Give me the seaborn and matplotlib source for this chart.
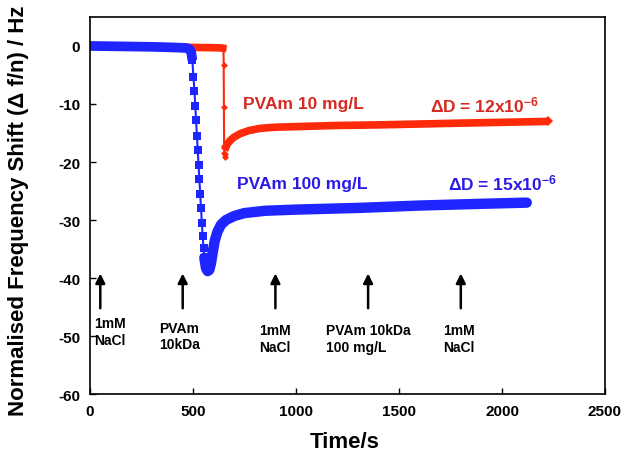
import numpy as np
import pandas as pd
import matplotlib
matplotlib.use("Agg")
import matplotlib.pyplot as plt
import seaborn as sns

# ---------------- data ----------------
# Blue: PVAm 100 mg/L
blue_base_t = [0, 100, 200, 300, 400, 470, 485, 492, 497]
blue_base_f = [0.0, -0.05, -0.1, -0.15, -0.25, -0.35, -0.6, -1.2, -2.5]
blue_drop_t = [497, 502, 507, 511, 515, 519, 523, 527, 531, 535, 539, 543, 547, 551, 555, 559]
blue_drop_f = [-2.5, -5.3, -7.7, -10.3, -12.8, -15.5, -18.0, -20.5, -23.0, -25.5, -28.0, -30.5, -32.8, -34.8, -36.5, -37.8]
blue_rec_t = [555, 563, 571, 579, 587, 596, 606, 619, 636, 660, 700, 750, 850, 1000, 1310, 1600, 1900, 2120]
blue_rec_f = [-36.5, -38.3, -38.8, -38.6, -37.5, -35.5, -33.5, -32.0, -30.8, -30.0, -29.3, -28.8, -28.4, -28.2, -27.9, -27.5, -27.2, -27.0]

# Red: PVAm 10 mg/L
red_base_t = [0, 200, 400, 600, 640, 662]
red_base_f = [0.0, -0.1, -0.2, -0.3, -0.35, -0.5]
red_drop_t = [648, 649, 650, 651, 652, 653, 654]
red_drop_f = [-0.5, -3.3, -10.6, -17.3, -18.5, -19.2, -18.6]
red_rec_t = [654, 665, 680, 700, 730, 770, 825, 900, 1000, 1200, 1400, 1800, 2225]
red_rec_f = [-18.0, -17.0, -16.3, -15.7, -15.1, -14.6, -14.2, -14.0, -13.9, -13.7, -13.6, -13.3, -13.0]

# Injection events
event_t = [50, 450, 900, 1350, 1800]
event_labels = ["1mM\nNaCl", "PVAm\n10kDa", "1mM\nNaCl", "PVAm 10kDa\n100 mg/L", "1mM\nNaCl"]

x_ticks = [0, 500, 1000, 1500, 2000, 2500]
y_ticks = [0, -10, -20, -30, -40, -50, -60]

# ---------------- style ----------------
sns.set_style("white")
plt.rcParams['font.family'] = ['Liberation Sans', 'DejaVu Sans']
plt.rcParams['font.weight'] = 'bold'
plt.rcParams['mathtext.fontset'] = 'custom'
plt.rcParams['mathtext.rm'] = 'Liberation Sans:bold'
plt.rcParams['mathtext.bf'] = 'Liberation Sans:bold'
plt.rcParams['mathtext.default'] = 'bf'
for k in ['text.color', 'axes.labelcolor', 'xtick.color', 'ytick.color', 'axes.edgecolor']:
    plt.rcParams[k] = 'black'

RED = "#ff2a0a"
BLUE = "#1f25ff"
RED_TXT = "#d42a22"
BLUE_TXT = "#2b1ae6"

fig = plt.figure(figsize=(6.25, 4.6), dpi=100)
ax = fig.add_axes([0.144, 0.141, 0.824, 0.820])

def line(t, f, **kw):
    sns.lineplot(x=t, y=f, ax=ax, sort=False, estimator=None, legend=False, **kw)

# red series (drawn first, under blue)
line(red_base_t, red_base_f, color=RED, linewidth=5.5, solid_capstyle='butt')
line(red_drop_t, red_drop_f, color=RED, linewidth=1.5, marker='D', markersize=3.5,
     markeredgewidth=0)
line(red_rec_t, red_rec_f, color=RED, linewidth=5.5, solid_capstyle='butt',
     marker='D', markevery=[len(red_rec_t) - 1], markersize=5, markeredgewidth=0)

# blue series
line(blue_base_t, blue_base_f, color=BLUE, linewidth=7, solid_capstyle='butt')
line(blue_drop_t, blue_drop_f, color=BLUE, linewidth=1.5, marker='s', markersize=6,
     markeredgewidth=0)
line(blue_rec_t, blue_rec_f, color=BLUE, linewidth=7.5, solid_capstyle='round')

# arrows and event labels
label_x = [19, 335, 820, 1146, 1714]
label_y = [-49.2, -50.0, -50.4, -50.4, -50.4]
for t, lx, ly, lab in zip(event_t, label_x, label_y, event_labels):
    ax.annotate("", xy=(t, -39.2), xytext=(t, -45.2),
                arrowprops=dict(arrowstyle='-|>', color='black', lw=1.8,
                                mutation_scale=14, shrinkA=0, shrinkB=0))
    ax.text(lx, ly, lab, ha='left', va='center', fontsize=10, fontweight='bold',
            linespacing=1.2, color='black')

# series annotations
ax.text(743, -10.0, "PVAm 10 mg/L", color=RED_TXT, fontsize=12.5, fontweight='bold',
        ha='left', va='center')
ax.text(1650, -10.0, r"ΔD = 12x10$^{-6}$", color=RED_TXT, fontsize=12.5,
        fontweight='bold', ha='left', va='center')
ax.text(714, -23.7, "PVAm 100 mg/L", color=BLUE_TXT, fontsize=12.5, fontweight='bold',
        ha='left', va='center')
ax.text(1738, -23.5, r"ΔD = 15x10$^{-6}$", color=BLUE_TXT, fontsize=12.5,
        fontweight='bold', ha='left', va='center')

# axes
ax.set_xlim(0, 2500)
ax.set_ylim(-60, 5)
ax.set_xticks(x_ticks)
ax.set_yticks(y_ticks)
ax.set_xticklabels([str(v) for v in x_ticks])
ax.set_yticklabels([str(v) for v in y_ticks])
ax.tick_params(direction='in', length=4, width=1, labelsize=11, pad=7,
               bottom=True, left=True)
for s in ax.spines.values():
    s.set_visible(True)
    s.set_linewidth(1.2)
    s.set_color('black')

ax.set_xlabel("Time/s", fontsize=16, fontweight='bold')
ax.set_ylabel("Normalised Frequency Shift (Δ f/n) / Hz", fontsize=16, fontweight='bold')
ax.xaxis.set_label_coords(0.495, -0.098)
ax.yaxis.set_label_coords(-0.118, 0.488)

fig.savefig("out.png", dpi=100)
